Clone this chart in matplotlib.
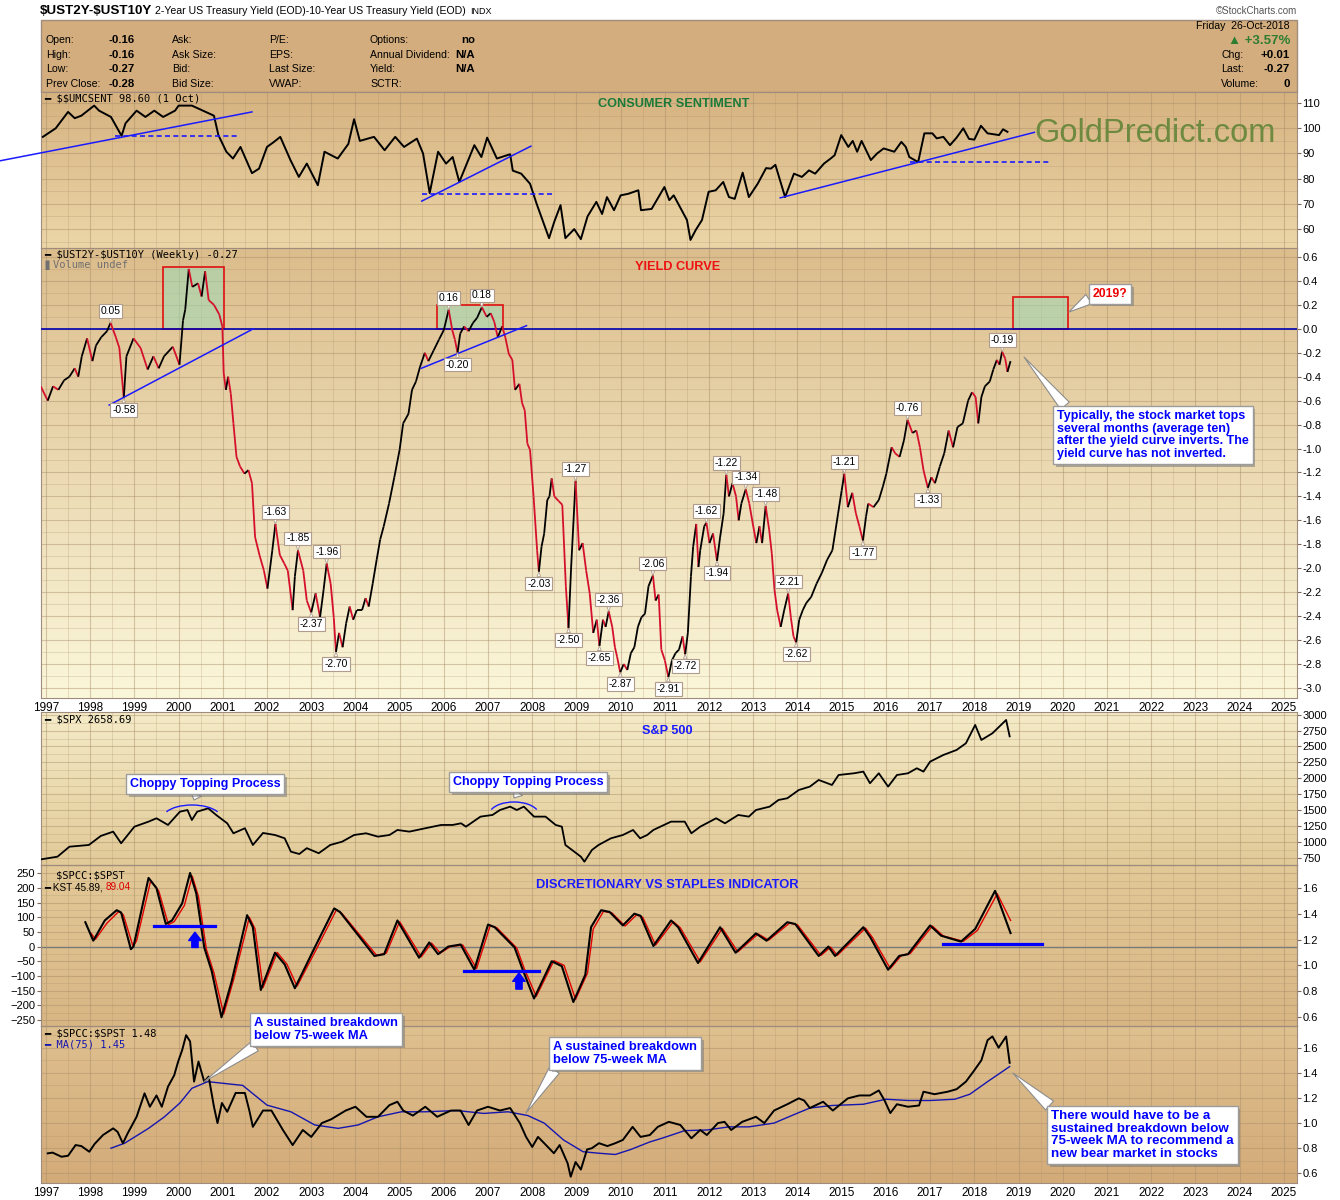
import numpy as np
import matplotlib
matplotlib.use('Agg')
import matplotlib.pyplot as plt
from matplotlib.collections import LineCollection
from matplotlib.patches import Rectangle, Arc
import matplotlib.patheffects as pe

ARIAL = ['Liberation Sans', 'DejaVu Sans']
MONO = ['DejaVu Sans Mono', 'DejaVu Sans']
plt.rcParams['font.family'] = ARIAL

# ---------------- DATA ----------------
year_ticks = list(range(1997, 2026))

# Consumer sentiment ($$UMCSENT)
cs_dates = [1996.93, 1997.22, 1997.50, 1997.65, 1997.80, 1998.09, 1998.20, 1998.47, 1998.71, 1998.80,
            1999.05, 1999.25, 1999.45, 1999.65, 1999.92, 2000.00, 2000.30, 2000.55, 2000.80, 2000.90,
            2001.08, 2001.23, 2001.40, 2001.66, 2001.82, 2002.00, 2002.15, 2002.30, 2002.53, 2002.72,
            2002.90, 2003.15, 2003.30, 2003.60, 2003.84, 2003.97, 2004.10, 2004.42, 2004.66, 2004.90,
            2005.10, 2005.39, 2005.53, 2005.68, 2005.87, 2006.05, 2006.20, 2006.35, 2006.69, 2006.85,
            2006.98, 2007.20, 2007.50, 2007.56, 2007.75, 2007.95, 2008.10, 2008.38, 2008.50, 2008.64,
            2008.75, 2008.95, 2009.10, 2009.25, 2009.45, 2009.58, 2009.69, 2009.85, 2010.00, 2010.17,
            2010.40, 2010.46, 2010.70, 2010.99, 2011.10, 2011.20, 2011.50, 2011.58, 2011.70, 2011.84,
            2011.99, 2012.15, 2012.32, 2012.45, 2012.58, 2012.76, 2012.90, 2013.10, 2013.29, 2013.40,
            2013.50, 2013.72, 2013.92, 2014.10, 2014.26, 2014.40, 2014.60, 2014.75, 2014.84, 2014.99,
            2015.15, 2015.25, 2015.35, 2015.45, 2015.66, 2015.80, 2015.95, 2016.19, 2016.35, 2016.45,
            2016.53, 2016.73, 2016.87, 2017.05, 2017.15, 2017.30, 2017.45, 2017.60, 2017.75, 2017.88,
            2018.00, 2018.15, 2018.30, 2018.56, 2018.65, 2018.75]
cs_vals = [96.6, 100.0, 106.5, 104.0, 105.0, 109.0, 107.0, 104.5, 97.0, 102.0,
           107.0, 104.5, 107.0, 104.5, 107.0, 109.0, 109.0, 107.0, 105.0, 97.3,
           90.7, 88.0, 92.6, 82.2, 84.0, 92.6, 94.5, 96.6, 87.4, 80.7,
           86.0, 77.4, 90.7, 88.0, 93.8, 103.6, 95.0, 96.6, 91.3, 96.6,
           92.6, 95.9, 90.0, 74.3, 90.7, 86.0, 88.6, 78.7, 93.3, 88.6,
           96.3, 88.0, 89.7, 83.2, 82.0, 78.0, 70.0, 56.4, 63.0, 69.5,
           56.4, 60.0, 56.0, 65.0, 70.8, 66.0, 72.7, 67.5, 73.4, 74.0,
           75.4, 67.5, 68.0, 76.7, 71.5, 73.4, 63.6, 55.7, 59.7, 63.6,
           74.8, 75.4, 78.7, 72.7, 72.0, 82.4, 72.7, 78.0, 84.2, 84.0,
           85.5, 72.7, 82.0, 80.7, 83.3, 82.0, 86.0, 88.0, 89.3, 97.3,
           92.6, 95.0, 90.7, 95.0, 87.4, 90.0, 92.0, 90.7, 94.6, 92.6,
           88.6, 86.6, 98.0, 98.0, 96.0, 96.6, 93.3, 96.3, 100.0, 95.8,
           95.5, 101.0, 98.0, 97.3, 99.6, 98.6]

# Yield curve ($UST2Y-$UST10Y weekly)
yc_dates = [1996.88, 1997.04, 1997.16, 1997.28, 1997.41, 1997.53, 1997.65, 1997.73, 1997.81, 1997.93,
            1998.05, 1998.13, 1998.25, 1998.38, 1998.46, 1998.58, 1998.66, 1998.76, 1998.82, 1998.98,
            1999.14, 1999.30, 1999.43, 1999.55, 1999.67, 1999.87, 2000.02, 2000.10, 2000.15, 2000.23,
            2000.31, 2000.44, 2000.52, 2000.60, 2000.68, 2000.80, 2000.92, 2000.99, 2001.02, 2001.07,
            2001.12, 2001.18, 2001.24, 2001.31, 2001.39, 2001.49, 2001.58, 2001.66, 2001.73, 2001.83,
            2001.93, 2002.01, 2002.12, 2002.19, 2002.29, 2002.39, 2002.47, 2002.58, 2002.63, 2002.70,
            2002.82, 2002.90, 2003.00, 2003.10, 2003.20, 2003.28, 2003.35, 2003.44, 2003.51, 2003.56,
            2003.63, 2003.71, 2003.79, 2003.87, 2003.95, 2004.03, 2004.15, 2004.23, 2004.30, 2004.39,
            2004.48, 2004.56, 2004.64, 2004.76, 2004.88, 2005.00, 2005.08, 2005.20, 2005.28, 2005.37,
            2005.46, 2005.57, 2005.65, 2005.77, 2005.89, 2006.00, 2006.11, 2006.19, 2006.25, 2006.31,
            2006.37, 2006.46, 2006.56, 2006.66, 2006.75, 2006.86, 2006.97, 2007.06, 2007.14, 2007.22,
            2007.32, 2007.39, 2007.47, 2007.55, 2007.61, 2007.71, 2007.77, 2007.83, 2007.89, 2007.95,
            2008.03, 2008.11, 2008.15, 2008.21, 2008.27, 2008.34, 2008.39, 2008.44, 2008.50, 2008.60,
            2008.68, 2008.76, 2008.82, 2008.88, 2008.98, 2009.06, 2009.14, 2009.22, 2009.30, 2009.38,
            2009.46, 2009.52, 2009.60, 2009.66, 2009.73, 2009.81, 2009.87, 2009.92, 2009.99, 2010.07,
            2010.15, 2010.23, 2010.31, 2010.39, 2010.47, 2010.55, 2010.63, 2010.73, 2010.79, 2010.86,
            2010.92, 2011.00, 2011.08, 2011.16, 2011.24, 2011.32, 2011.40, 2011.46, 2011.52, 2011.59,
            2011.64, 2011.71, 2011.76, 2011.80, 2011.89, 2011.94, 2012.01, 2012.09, 2012.18, 2012.25,
            2012.33, 2012.39, 2012.45, 2012.53, 2012.61, 2012.67, 2012.73, 2012.83, 2012.91, 2012.99,
            2013.07, 2013.14, 2013.20, 2013.28, 2013.36, 2013.42, 2013.48, 2013.54, 2013.62, 2013.70,
            2013.79, 2013.85, 2013.91, 2013.97, 2014.04, 2014.12, 2014.20, 2014.31, 2014.43, 2014.55,
            2014.67, 2014.79, 2014.92, 2015.00, 2015.06, 2015.14, 2015.24, 2015.32, 2015.40, 2015.48,
            2015.55, 2015.60, 2015.72, 2015.84, 2015.93, 2016.01, 2016.13, 2016.21, 2016.31, 2016.41,
            2016.49, 2016.60, 2016.69, 2016.77, 2016.85, 2016.95, 2017.03, 2017.11, 2017.22, 2017.32,
            2017.42, 2017.52, 2017.62, 2017.74, 2017.86, 2017.95, 2018.03, 2018.09, 2018.16, 2018.24,
            2018.35, 2018.43, 2018.51, 2018.57, 2018.63, 2018.70, 2018.75, 2018.82]
yc_vals = [-0.48, -0.60, -0.48, -0.51, -0.43, -0.40, -0.33, -0.40, -0.23, -0.08,
           -0.27, -0.14, -0.07, -0.02, 0.05, -0.07, -0.16, -0.58, -0.23, -0.08,
           -0.16, -0.34, -0.23, -0.33, -0.23, -0.15, -0.30, 0.07, 0.16, 0.50,
           0.35, 0.38, 0.27, 0.48, 0.24, 0.20, 0.12, 0.02, -0.37, -0.51,
           -0.40, -0.54, -0.79, -1.07, -1.15, -1.21, -1.18, -1.29, -1.74, -1.89,
           -2.02, -2.17, -1.85, -1.63, -1.89, -1.96, -2.02, -2.35, -2.07, -1.85,
           -2.02, -2.27, -2.37, -2.21, -2.41, -2.18, -1.96, -2.13, -2.41, -2.70,
           -2.54, -2.66, -2.46, -2.32, -2.43, -2.35, -2.35, -2.25, -2.32, -2.13,
           -1.93, -1.76, -1.65, -1.46, -1.24, -1.01, -0.79, -0.71, -0.51, -0.44,
           -0.32, -0.20, -0.27, -0.18, -0.09, -0.01, 0.16, -0.01, -0.09, -0.20,
           -0.04, 0.02, -0.02, 0.05, 0.09, 0.18, 0.10, 0.13, 0.06, -0.07,
           0.02, -0.07, -0.21, -0.26, -0.51, -0.46, -0.62, -0.68, -0.96, -1.01,
           -1.40, -1.85, -2.03, -1.82, -1.71, -1.43, -1.40, -1.25, -1.40, -1.44,
           -1.47, -2.15, -2.50, -1.99, -1.27, -1.85, -1.79, -2.02, -2.21, -2.54,
           -2.43, -2.65, -2.43, -2.49, -2.36, -2.49, -2.66, -2.74, -2.87, -2.80,
           -2.85, -2.71, -2.66, -2.49, -2.41, -2.38, -2.15, -2.06, -2.27, -2.22,
           -2.68, -2.77, -2.91, -2.77, -2.71, -2.68, -2.57, -2.72, -2.54, -2.07,
           -1.82, -1.63, -1.99, -1.85, -1.65, -1.62, -1.79, -1.71, -1.94, -1.74,
           -1.54, -1.22, -1.40, -1.29, -1.40, -1.60, -1.46, -1.34, -1.46, -1.63,
           -1.79, -1.65, -1.79, -1.48, -1.68, -1.88, -2.18, -2.35, -2.49, -2.35,
           -2.21, -2.41, -2.57, -2.62, -2.43, -2.35, -2.29, -2.24, -2.13, -2.04,
           -1.93, -1.85, -1.54, -1.35, -1.21, -1.49, -1.37, -1.54, -1.65, -1.77,
           -1.57, -1.46, -1.49, -1.43, -1.32, -1.21, -0.99, -1.04, -1.07, -0.93,
           -0.76, -0.87, -0.85, -0.99, -1.18, -1.33, -1.24, -1.29, -1.15, -1.04,
           -0.85, -0.99, -0.82, -0.79, -0.60, -0.53, -0.57, -0.79, -0.57, -0.48,
           -0.44, -0.34, -0.26, -0.30, -0.19, -0.25, -0.36, -0.27]

# labelled turning points on the yield curve
yl_dates = [1998.46, 1998.76, 2002.19, 2002.70, 2003.00, 2003.35, 2003.56, 2006.11, 2006.31, 2006.86,
            2008.15, 2008.98, 2008.82, 2009.52, 2009.73, 2009.99, 2010.73, 2011.08, 2011.46, 2011.94,
            2012.18, 2012.39, 2012.83, 2013.28, 2013.79, 2013.97, 2015.06, 2015.48, 2016.49, 2016.95,
            2018.63]
yl_vals = [0.05, -0.58, -1.63, -1.85, -2.37, -1.96, -2.70, 0.16, -0.20, 0.18,
           -2.03, -1.27, -2.50, -2.65, -2.36, -2.87, -2.06, -2.91, -2.72, -1.62,
           -1.94, -1.22, -1.34, -1.48, -2.21, -2.62, -1.21, -1.77, -0.76, -1.33,
           -0.19]
yl_above = [1, 0, 1, 1, 0, 1, 0, 1, 0, 1,
            0, 1, 0, 0, 1, 0, 1, 0, 0, 1,
            0, 1, 1, 1, 1, 0, 1, 0, 1, 0,
            1]

# S&P 500
spx_dates = [1996.90, 1997.26, 1997.53, 1997.97, 1998.24, 1998.52, 1998.70, 1999.00, 1999.32, 1999.50,
             1999.76, 2000.03, 2000.20, 2000.30, 2000.42, 2000.67, 2000.85, 2001.10, 2001.24, 2001.50,
             2001.68, 2001.91, 2002.18, 2002.40, 2002.54, 2002.73, 2002.90, 2003.17, 2003.43, 2003.70,
             2003.97, 2004.24, 2004.51, 2004.77, 2004.95, 2005.22, 2005.58, 2005.94, 2006.20, 2006.39,
             2006.50, 2006.83, 2007.10, 2007.27, 2007.50, 2007.65, 2007.81, 2008.04, 2008.30, 2008.53,
             2008.67, 2008.75, 2008.90, 2009.10, 2009.18, 2009.35, 2009.50, 2009.78, 2010.05, 2010.28,
             2010.44, 2010.60, 2010.74, 2011.14, 2011.45, 2011.60, 2011.80, 2012.16, 2012.36, 2012.66,
             2012.90, 2013.06, 2013.37, 2013.57, 2013.77, 2014.03, 2014.28, 2014.48, 2014.78, 2014.93,
             2015.28, 2015.49, 2015.64, 2015.84, 2016.05, 2016.25, 2016.50, 2016.70, 2016.85, 2017.00,
             2017.30, 2017.60, 2017.81, 2018.02, 2018.16, 2018.41, 2018.72, 2018.80]
spx_vals = [725, 766, 923, 950, 1092, 1160, 977, 1238, 1317, 1370,
            1265, 1474, 1500, 1343, 1474, 1527, 1422, 1291, 1134, 1213,
            950, 1139, 1107, 1055, 845, 808, 900, 820, 950, 1002,
            1107, 1134, 1081, 1107, 1186, 1160, 1213, 1265, 1265, 1291,
            1238, 1396, 1422, 1500, 1553, 1500, 1553, 1396, 1396, 1265,
            1238, 950, 871, 766, 687, 871, 950, 1055, 1107, 1186,
            1055, 1107, 1186, 1317, 1317, 1134, 1238, 1370, 1291, 1422,
            1396, 1500, 1553, 1658, 1685, 1815, 1868, 1973, 1894, 2051,
            2078, 2104, 1921, 2078, 1868, 2051, 2078, 2157, 2104, 2261,
            2366, 2445, 2550, 2838, 2602, 2707, 2917, 2658.69]

# KST of $SPCC:$SPST (black) and its signal line (red)
kst_dates = [1997.89, 1998.07, 1998.33, 1998.60, 1998.70, 1998.92, 1998.98, 1999.32, 1999.50, 1999.71,
             1999.85, 2000.08, 2000.26, 2000.40, 2000.58, 2000.75, 2000.97, 2001.20, 2001.55, 2001.68,
             2001.86, 2002.18, 2002.40, 2002.63, 2003.08, 2003.52, 2003.65, 2004.43, 2004.65, 2004.95,
             2005.44, 2005.67, 2005.87, 2006.10, 2006.38, 2006.69, 2007.00, 2007.15, 2007.60, 2007.77,
             2008.04, 2008.44, 2008.67, 2008.93, 2009.20, 2009.33, 2009.56, 2009.75, 2010.05, 2010.31,
             2010.45, 2010.74, 2011.14, 2011.30, 2011.75, 2012.25, 2012.60, 2013.06, 2013.30, 2013.77,
             2013.95, 2014.48, 2014.70, 2014.85, 2015.49, 2015.65, 2016.05, 2016.30, 2016.50, 2017.00,
             2017.25, 2017.70, 2018.02, 2018.47, 2018.82]
kst_vals = [83, 20, 89, 124, 116, -9, 0, 234, 199, 77,
            89, 147, 251, 181, -3, -84, -241, -119, 107, 66,
            -148, -21, -61, -142, -3, 130, 118, -32, -26, 89,
            -38, 14, -26, 0, 7, -79, 75, 66, -3, -73,
            -177, -50, -67, -189, -96, 66, 124, 118, 72, 112,
            105, 2, 89, 66, -56, 66, -21, 45, 20, 83,
            77, -32, 0, -32, 66, 31, -79, -32, -26, 72,
            37, 17, 60, 190, 45.89]
sig_dates = [1998.02, 1998.12, 1998.38, 1998.65, 1998.75, 1998.97, 1999.05, 1999.37, 1999.55, 1999.77,
             1999.90, 2000.13, 2000.31, 2000.45, 2000.63, 2000.80, 2001.02, 2001.25, 2001.60, 2001.73,
             2001.91, 2002.23, 2002.45, 2002.68, 2003.13, 2003.57, 2003.70, 2004.48, 2004.70, 2005.00,
             2005.49, 2005.72, 2005.92, 2006.15, 2006.43, 2006.74, 2007.05, 2007.20, 2007.65, 2007.82,
             2008.09, 2008.49, 2008.72, 2008.98, 2009.25, 2009.38, 2009.61, 2009.80, 2010.10, 2010.36,
             2010.50, 2010.79, 2011.19, 2011.35, 2011.80, 2012.30, 2012.65, 2013.11, 2013.35, 2013.82,
             2014.00, 2014.53, 2014.75, 2014.90, 2015.54, 2015.70, 2016.10, 2016.35, 2016.55, 2017.05,
             2017.30, 2017.75, 2018.07, 2018.52, 2018.82]
sig_vals = [45, 25, 80, 120, 108, 0, 20, 225, 190, 75,
            85, 140, 240, 170, -10, -90, -230, -110, 100, 60,
            -140, -20, -60, -135, -5, 125, 112, -30, -22, 85,
            -35, 12, -22, 0, 5, -75, 72, 64, -5, -75,
            -170, -48, -64, -180, -90, 60, 120, 115, 70, 108,
            100, 5, 85, 64, -52, 62, -18, 43, 22, 80,
            74, -30, -2, -30, 63, 30, -75, -30, -24, 70,
            36, 18, 55, 180, 89.04]

# $SPCC:$SPST ratio and its 75-week moving average
ratio_dates = [1997.04, 1997.15, 1997.35, 1997.50, 1997.67, 1997.80, 1997.98, 1998.10, 1998.29, 1998.52,
               1998.62, 1998.74, 1998.85, 1999.05, 1999.23, 1999.35, 1999.50, 1999.62, 1999.76, 1999.90,
               1999.99, 2000.08, 2000.17, 2000.26, 2000.35, 2000.45, 2000.58, 2000.68, 2000.80, 2000.88,
               2000.98, 2001.10, 2001.29, 2001.50, 2001.60, 2001.68, 2001.91, 2002.10, 2002.36, 2002.58,
               2002.81, 2003.00, 2003.24, 2003.45, 2003.78, 2004.00, 2004.25, 2004.51, 2004.77, 2004.95,
               2005.08, 2005.30, 2005.58, 2005.85, 2006.16, 2006.38, 2006.56, 2006.75, 2007.00, 2007.27,
               2007.50, 2007.72, 2007.86, 2008.00, 2008.13, 2008.27, 2008.49, 2008.62, 2008.80, 2008.87,
               2008.98, 2009.10, 2009.24, 2009.35, 2009.51, 2009.70, 2009.88, 2010.05, 2010.27, 2010.45,
               2010.66, 2010.84, 2011.09, 2011.35, 2011.60, 2011.80, 2011.95, 2012.20, 2012.35, 2012.50,
               2012.75, 2013.06, 2013.25, 2013.47, 2013.77, 2014.03, 2014.15, 2014.28, 2014.58, 2014.80,
               2015.14, 2015.40, 2015.64, 2015.84, 2015.97, 2016.10, 2016.25, 2016.50, 2016.75, 2016.85,
               2017.10, 2017.40, 2017.60, 2017.81, 2018.00, 2018.16, 2018.30, 2018.41, 2018.55, 2018.72,
               2018.80]
ratio_vals = [0.759, 0.765, 0.732, 0.740, 0.825, 0.817, 0.772, 0.834, 0.905, 0.958,
              0.930, 0.839, 0.920, 1.050, 1.237, 1.130, 1.220, 1.130, 1.290, 1.380,
              1.490, 1.580, 1.700, 1.650, 1.330, 1.490, 1.330, 1.370, 1.130, 1.000,
              1.160, 1.090, 1.240, 1.240, 1.100, 0.970, 1.100, 1.100, 0.945, 0.825,
              0.945, 0.890, 1.000, 1.030, 1.100, 1.130, 1.050, 1.050, 1.143, 1.170,
              1.100, 1.060, 1.130, 1.050, 1.100, 1.100, 0.985, 1.100, 1.130, 1.100,
              1.120, 1.000, 0.890, 0.810, 0.890, 0.840, 0.760, 0.825, 0.680, 0.573,
              0.690, 0.630, 0.790, 0.800, 0.840, 0.817, 0.840, 0.866, 0.970, 0.890,
              0.905, 0.970, 1.010, 0.985, 0.879, 0.945, 0.905, 1.000, 1.010, 0.945,
              1.010, 1.050, 1.000, 1.100, 1.150, 1.197, 1.180, 1.120, 1.170, 1.100,
              1.197, 1.220, 1.220, 1.260, 1.180, 1.080, 1.150, 1.130, 1.140, 1.250,
              1.230, 1.250, 1.270, 1.330, 1.420, 1.500, 1.660, 1.690, 1.600, 1.690,
              1.480]
ma_dates = [1998.47, 1998.78, 1999.32, 1999.68, 2000.03, 2000.30, 2000.66, 2001.00, 2001.45, 2002.00,
            2002.54, 2003.08, 2003.61, 2004.06, 2004.51, 2005.04, 2005.58, 2006.30, 2006.90, 2007.45,
            2007.90, 2008.27, 2008.71, 2009.15, 2009.51, 2009.88, 2010.23, 2010.66, 2010.94, 2011.45,
            2011.95, 2012.45, 2012.90, 2013.47, 2013.87, 2014.28, 2014.78, 2015.49, 2016.00, 2016.50,
            2017.00, 2017.56, 2017.90, 2018.30, 2018.80]
ma_vals = [0.800, 0.840, 0.958, 1.050, 1.160, 1.277, 1.330, 1.317, 1.300, 1.143,
           1.090, 0.985, 0.958, 0.985, 1.050, 1.090, 1.090, 1.100, 1.077, 1.090,
           1.060, 1.000, 0.865, 0.772, 0.760, 0.750, 0.790, 0.850, 0.880, 0.940,
           0.945, 0.970, 0.970, 1.000, 1.060, 1.120, 1.140, 1.150, 1.190, 1.180,
           1.180, 1.190, 1.230, 1.330, 1.450]

# ---------------- LAYOUT HELPERS ----------------
W, H = 1340, 1200
fig = plt.figure(figsize=(13.4, 12), dpi=100)
fig.patch.set_facecolor('white')
renderer = fig.canvas.get_renderer()

def FX(x):
    return x / W

def FY(y):
    return 1 - y / H

X0, X1 = 40.5, 1297
XLIM = (1996.876, 2025.30)
GRIDC = '#a88c68'
SPINEC = '#a08c7c'


def panel(top, bot, c_top, c_bot, ylim, yt, ytm):
    rect = [FX(X0), FY(bot), FX(X1) - FX(X0), (bot - top) / H]
    bg = fig.add_axes(rect, zorder=0)
    g = np.linspace(0, 1, 256)[:, None, None]
    ct = np.array(c_top, float)[None, None, :] / 255
    cb = np.array(c_bot, float)[None, None, :] / 255
    bg.imshow(ct * (1 - g) + cb * g, aspect='auto', extent=[0, 1, 0, 1])
    bg.set_axis_off()
    ax = fig.add_axes(rect, zorder=1)
    ax.set_facecolor('none')
    ax.set_xticks(year_ticks)
    ax.set_xticks(np.arange(1997.5, 2025.0, 1.0), minor=True)
    ax.set_yticks(yt)
    ax.set_yticks(ytm, minor=True)
    ax.set_xlim(*XLIM)
    ax.set_ylim(*ylim)
    ax.grid(which='major', axis='both', color=GRIDC, alpha=0.45, lw=0.8)
    ax.grid(which='minor', axis='both', color=GRIDC, alpha=0.25, lw=0.7)
    ax.tick_params(axis='x', which='both', length=0, labelbottom=False, labelsize=8.5, pad=3)
    ax.yaxis.tick_right()
    ax.tick_params(axis='y', which='major', length=3, color='#806858', labelsize=8, pad=1)
    ax.tick_params(axis='y', which='minor', length=0)
    for s in ax.spines.values():
        s.set_color(SPINEC)
    return ax


def ftext(x, y, s, **kw):
    kw.setdefault('va', 'center')
    kw.setdefault('parse_math', False)
    return fig.text(FX(x), FY(y), s, **kw)


def right_px(t):
    bb = t.get_window_extent(renderer=renderer)
    return bb.x1


def callout(ax, text, box_tl, target, relpos, color='#0000ff', size=8.8):
    ann = ax.annotate(text, xy=(FX(target[0]), FY(target[1])), xycoords='figure fraction',
                      xytext=(FX(box_tl[0]), FY(box_tl[1])), textcoords='figure fraction',
                      ha='left', va='top', color=color, fontsize=size, fontweight='bold',
                      family=ARIAL, linespacing=1.08,
                      bbox=dict(boxstyle='square,pad=0.3', fc='white', ec='#9c9c9c', lw=1.0),
                      arrowprops=dict(arrowstyle='wedge,tail_width=0.9,shrink_factor=0.5',
                                      fc='white', ec='#8c8c8c', lw=0.8, relpos=relpos,
                                      shrinkA=0, shrinkB=0),
                      annotation_clip=False, zorder=30)
    ann.get_bbox_patch().set_path_effects([
        pe.SimplePatchShadow(offset=(2, -2), shadow_rgbFace='#7a7a7a', alpha=0.55), pe.Normal()])
    return ann

# ---------------- HEADER ----------------
t1 = ftext(40, 11, '$UST2Y-$UST10Y', fontsize=9.6, fontweight='bold')
t2 = ftext(right_px(t1) + 3, 11, '2-Year US Treasury Yield (EOD)-10-Year US Treasury Yield (EOD)', fontsize=7.6)
ftext(right_px(t2) + 4, 11, 'INDX', fontsize=6.5)
ftext(1297, 11, '\u00a9StockCharts.com', fontsize=7, color='#555555', ha='right')
fig.add_artist(Rectangle((FX(40.5), FY(92)), FX(1297) - FX(40.5), (92 - 20) / H,
                         transform=fig.transFigure, fc='#d3ad7d', ec=SPINEC, lw=1, zorder=0))
rows_y = [40, 55, 69, 84]
col1 = ['Open:', 'High:', 'Low:', 'Prev Close:']
col1v = ['-0.16', '-0.16', '-0.27', '-0.28']
col2 = ['Ask:', 'Ask Size:', 'Bid:', 'Bid Size:']
col3 = ['P/E:', 'EPS:', 'Last Size:', 'VWAP:']
col4 = ['Options:', 'Annual Dividend:', 'Yield:', 'SCTR:']
col4v = ['no', 'N/A', 'N/A', '']
for i, yy in enumerate(rows_y):
    ftext(46, yy, col1[i], fontsize=7.6)
    ftext(135, yy, col1v[i], fontsize=8.2, fontweight='bold', ha='right')
    ftext(172, yy, col2[i], fontsize=7.6)
    ftext(269, yy, col3[i], fontsize=7.6)
    ftext(370, yy, col4[i], fontsize=7.6)
    ftext(475, yy, col4v[i], fontsize=8.2, fontweight='bold', ha='right')
ftext(1290, 26, 'Friday  26-Oct-2018', fontsize=7.6, ha='right')
ftext(1290, 41, '\u25b2 +3.57%', fontsize=9.5, fontweight='bold', ha='right', color='#2e7d32')
for yy, lab, val in [(55, 'Chg:', '+0.01'), (69, 'Last:', '-0.27'), (84, 'Volume:', '0')]:
    ftext(1221, yy, lab, fontsize=7.6)
    ftext(1290, yy, val, fontsize=8.2, fontweight='bold', ha='right')

# ---------------- CONSUMER SENTIMENT ----------------
ax_cs = panel(92, 248, (214, 178, 128), (236, 214, 168), (52.5, 114.4),
              [60, 70, 80, 90, 100, 110], [55, 65, 75, 85, 95, 105])
ax_cs.plot(cs_dates, cs_vals, color='black', lw=1.4, zorder=5)
ax_cs.plot([1995.96, 2001.66], [87.1, 106.5], color='#1a1aff', lw=1.1, clip_on=False, zorder=6)
ax_cs.plot([1998.57, 2001.32], [96.9, 96.9], color='#1a1aff', lw=1.2, ls=(0, (3, 2)), zorder=6)
ax_cs.plot([2005.50, 2007.97], [71.1, 92.9], color='#1a1aff', lw=1.1, zorder=6)
ax_cs.plot([2005.50, 2008.45], [73.8, 73.8], color='#1a1aff', lw=1.2, ls=(0, (3, 2)), zorder=6)
ax_cs.plot([2013.61, 2019.36], [72.4, 98.4], color='#1a1aff', lw=1.1, zorder=6)
ax_cs.plot([2016.55, 2019.69], [86.5, 86.5], color='#1a1aff', lw=1.2, ls=(0, (3, 2)), zorder=6)
ftext(44, 98.5, '\u2501 $$UMCSENT 98.60 (1 Oct)', fontsize=7.5, family=MONO)
ftext(674, 104, 'CONSUMER SENTIMENT', fontsize=9.2, fontweight='bold', color='#1b7a3a', ha='center')
ftext(1034, 133, 'GoldPredict.com', fontsize=23.5, color='#6e8a40', ha='left')

# ---------------- YIELD CURVE ----------------
ax_yc = panel(248, 698, (220, 189, 140), (251, 247, 218), (-3.084, 0.675),
              np.round(np.arange(-3.0, 0.61, 0.2), 1), np.round(np.arange(-2.9, 0.6, 0.2), 1))
ax_yc.yaxis.set_major_formatter(matplotlib.ticker.FormatStrFormatter('%.1f'))
ax_yc.tick_params(axis='x', labelbottom=True)
for x0, x1, top in [(1999.64, 2001.03, 0.513), (2005.85, 2007.33, 0.20), (2018.87, 2020.11, 0.263)]:
    ax_yc.add_patch(Rectangle((x0, 0), x1 - x0, top, fc=(0.62, 0.86, 0.72, 0.55), ec='#e01010', lw=1.2, zorder=3))
ax_yc.axhline(0, color='#0000b0', lw=1.2, zorder=4)
n = min(len(yc_dates), len(yc_vals))
pts = np.column_stack([yc_dates[:n], yc_vals[:n]])
segs = np.stack([pts[:-1], pts[1:]], axis=1)
cols = ['#d4102c' if b < a else '#000000' for a, b in zip(yc_vals[:n - 1], yc_vals[1:n])]
ax_yc.add_collection(LineCollection(segs, colors=cols, linewidths=1.3, zorder=6))
ax_yc.plot([1998.43, 2001.69], [-0.637, 0.0], color='#1a1aff', lw=1.1, zorder=7)
ax_yc.plot([2005.49, 2007.87], [-0.33, 0.026], color='#1a1aff', lw=1.1, zorder=7)
for d, v, up in zip(yl_dates, yl_vals, yl_above):
    ax_yc.annotate('%.2f' % v, xy=(d, v), xytext=(0, 8.5 if up else -8.5), textcoords='offset points',
                   ha='center', va='center', fontsize=7.4, zorder=12,
                   bbox=dict(boxstyle='square,pad=0.18', fc='white', ec='#b09c8c', lw=0.8),
                   arrowprops=dict(arrowstyle='wedge,tail_width=0.35', fc='white', ec='#b09c8c',
                                   lw=0.6, shrinkA=0, shrinkB=0))
ftext(44, 255, '\u2501 $UST2Y-$UST10Y (Weekly) -0.27', fontsize=7.5, family=MONO)
ftext(42, 265.5, '\u2590\u258c', fontsize=6, family=MONO, color='#707070')
ftext(53, 265.5, 'Volume undef', fontsize=7.5, family=MONO, color='#707070')
ftext(678, 267, 'YIELD CURVE', fontsize=9.2, fontweight='bold', color='#ee1111', ha='center')
callout(ax_yc, '2019?', (1093, 288), (1069, 312), (0.0, 0.3), color='#ee0000')
callout(ax_yc, 'Typically, the stock market tops\nseveral months (average ten)\nafter the yield curve inverts. The\nyield curve has not inverted.',
        (1057, 410), (1024, 357), (0.06, 1.0), size=9.0)

# ---------------- S&P 500 ----------------
ax_sp = panel(712, 865, (244, 235, 199), (226, 202, 152), (635, 3042),
              list(range(750, 3001, 250)), list(range(875, 3000, 250)))
ax_sp.plot(spx_dates, spx_vals, color='black', lw=1.3, zorder=5)
ftext(44, 719, '\u2501 $SPX 2658.69', fontsize=7.5, family=MONO)
ftext(667, 731, 'S&P 500', fontsize=9.2, fontweight='bold', color='#1a1aff', ha='center')
for cx, cy, w in [(192, 818, 58), (514, 815, 50)]:
    fig.add_artist(Arc((FX(cx), FY(cy)), w / W, 26 / H, theta1=15, theta2=165,
                       transform=fig.transFigure, color='#1a1aff', lw=1.0, zorder=8))
callout(ax_sp, 'Choppy Topping Process', (130, 778), (194, 800), (0.45, 0.0), size=9.0)
callout(ax_sp, 'Choppy Topping Process', (453, 776), (514, 798), (0.45, 0.0), size=9.0)

# ---------------- KST ----------------
ax_k = panel(865, 1025.5, (227, 201, 152), (216, 182, 132), (-269, 278),
             list(range(-250, 251, 50)), list(range(-225, 250, 50)))
ax_k.yaxis.tick_left()
ax_k.tick_params(axis='y', which='major', length=3, labelsize=8, pad=1)
ax_k.axhline(0, color='#7a7a7a', lw=1.0, zorder=3)
ax_k.plot(sig_dates, sig_vals, color='#e00000', lw=1.0, zorder=5)
ax_k.plot(kst_dates, kst_vals, color='black', lw=1.5, zorder=6)
for x0, x1, yv in [(1999.45, 2000.82, 69), (2006.46, 2008.15, -82), (2017.30, 2019.53, 8)]:
    ax_k.plot([x0, x1], [yv, yv], color='#0000ff', lw=2.3, zorder=7)
for xa, y0, y1 in [(2000.37, -3, 49), (2007.70, -145, -90)]:
    ax_k.annotate('', xy=(xa, y1), xytext=(xa, y0),
                  arrowprops=dict(arrowstyle='simple,head_width=0.9,head_length=0.6,tail_width=0.45',
                                  color='#0000ff', shrinkA=0, shrinkB=0), zorder=8)
ax_k2 = ax_k.twinx()
ax_k2.set_yticks([0.6, 0.8, 1.0, 1.2, 1.4, 1.6])
ax_k2.set_ylim(0.53, 1.783)
ax_k2.yaxis.set_major_formatter(matplotlib.ticker.FormatStrFormatter('%.1f'))
ax_k2.tick_params(axis='y', length=3, color='#806858', labelsize=8, pad=1)
for s in ax_k2.spines.values():
    s.set_color(SPINEC)
ftext(56, 876, '$SPCC:$SPST', fontsize=7.5, family=MONO)
tk = ftext(44, 887, '\u2501 KST 45.89,', fontsize=7.2)
ftext(right_px(tk) + 3, 887, '89.04', fontsize=7.2, color='#e00000')
ftext(667, 885, 'DISCRETIONARY VS STAPLES INDICATOR', fontsize=9.3, fontweight='bold',
      color='#1a1aff', ha='center')

# ---------------- RATIO + MA ----------------
ax_r = panel(1025.5, 1183, (223, 192, 143), (211, 171, 121), (0.523, 1.777),
             [0.6, 0.8, 1.0, 1.2, 1.4, 1.6], [0.7, 0.9, 1.1, 1.3, 1.5, 1.7])
ax_r.yaxis.set_major_formatter(matplotlib.ticker.FormatStrFormatter('%.1f'))
ax_r.tick_params(axis='x', labelbottom=True)
ax_r.plot(ma_dates, ma_vals, color='#1515b0', lw=1.0, zorder=5)
ax_r.plot(ratio_dates, ratio_vals, color='black', lw=1.4, zorder=6)
ftext(44, 1033.5, '\u2501 $SPCC:$SPST 1.48', fontsize=7.5, family=MONO)
ftext(44, 1044.5, '\u2501 MA(75) 1.45', fontsize=7.5, family=MONO, color='#1515b0')
callout(ax_r, 'A sustained breakdown\nbelow 75-week MA', (254, 1017), (204, 1081.7), (0.05, 0.0), size=9.3)
callout(ax_r, 'A sustained breakdown\nbelow 75-week MA', (553, 1041), (526, 1113), (0.03, 0.0), size=9.3)
callout(ax_r, 'There would have to be a\nsustained breakdown below\n75-week MA to recommend a\nnew bear market in stocks',
        (1051, 1110), (1012.8, 1073), (0.02, 1.0), size=9.6)

fig.savefig('out.png', dpi=100, facecolor='white')
